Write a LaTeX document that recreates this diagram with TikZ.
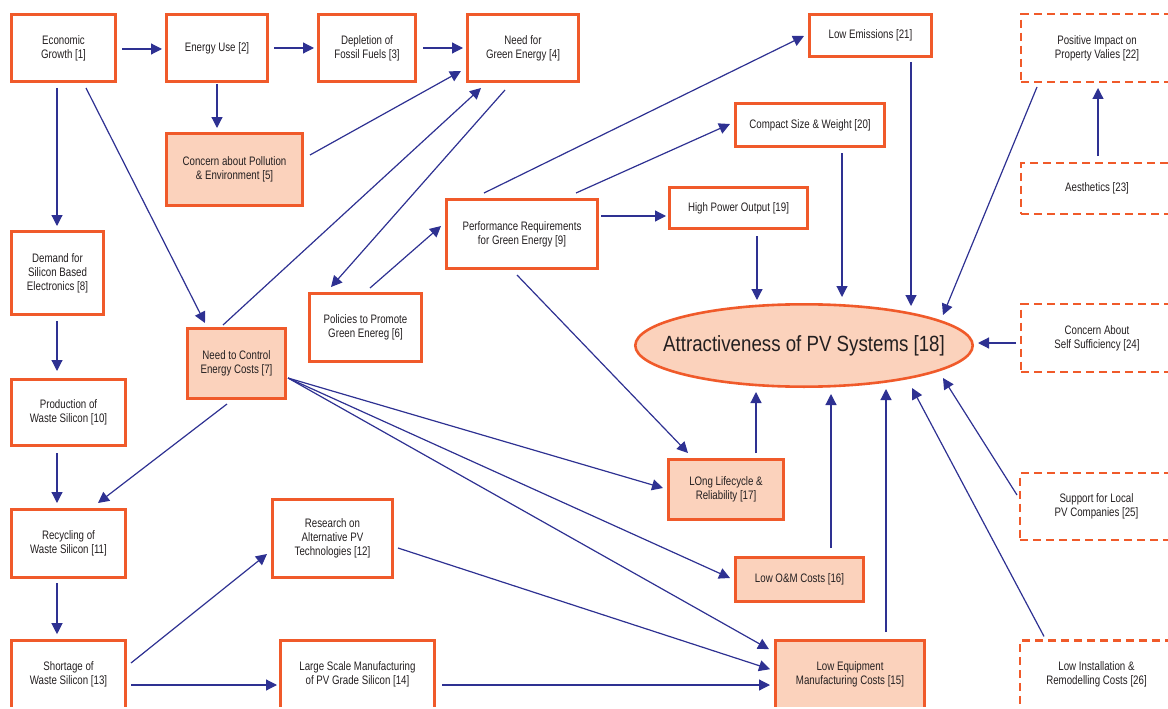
\documentclass[tikz,border=0pt]{standalone}
\usepackage{fontspec}
\setmainfont{Liberation Sans}[FakeStretch=0.79]
\newfontfamily\bigfont{Liberation Sans}[FakeStretch=0.85]
\usetikzlibrary{arrows.meta,shapes.geometric}
\definecolor{boxorange}{RGB}{240,90,42}
\definecolor{peach}{RGB}{251,210,188}
\definecolor{navy}{RGB}{46,49,146}
\definecolor{txt}{RGB}{35,31,32}
\begin{document}
\begin{tikzpicture}[x=1pt,y=-1pt,
  box/.style={draw=boxorange, line width=2.6pt, rectangle, inner sep=2pt, outer sep=1.3pt,
    align=center, text=txt, font=\fontsize{12.3}{14}\selectfont},
  hot/.style={box, fill=peach},
  dbox/.style={box, line width=2.2pt, dash pattern=on 8pt off 5pt, outer sep=1.1pt},
  arr/.style={draw=navy, line width=1.2pt, -{Triangle[length=11pt,width=11pt]}},
]
\useasboundingbox (0,0) rectangle (1168,709);
\clip (-10,-10) rectangle (1180,706);

% boxes
\node[box, minimum width=104.4, minimum height=67.4] (n1) at (63.5,48) {Economic\\Growth [1]};
\node[box, minimum width=101.4, minimum height=67.4] (n2) at (217,48) {Energy Use [2]};
\node[box, minimum width=97.4, minimum height=67.4] (n3) at (367,48) {Depletion of\\Fossil Fuels [3]};
\node[box, minimum width=111.4, minimum height=67.4] (n4) at (523,48) {Need for\\Green Energy [4]};
\node[hot, minimum width=136.4, minimum height=72.4] (n5) at (234.5,169.5) {Concern about Pollution\\\& Environment [5]};
\node[box, minimum width=112.4, minimum height=68.4] (n6) at (365.5,327.5) {Policies to Promote\\Green Enereg [6]};
\node[hot, minimum width=98.4, minimum height=70.4] (n7) at (236.5,363.5) {Need to Control\\Energy Costs [7]};
\node[box, minimum width=92.4, minimum height=83.4] (n8) at (57.5,273) {Demand for\\Silicon Based\\Electronics [8]};
\node[box, minimum width=151.4, minimum height=69.4] (n9) at (522,234) {Performance Requirements\\for Green Energy [9]};
\node[box, minimum width=114.4, minimum height=66.4] (n10) at (68.5,412.5) {Production of\\Waste Silicon [10]};
\node[box, minimum width=114.4, minimum height=68.4] (n11) at (68.5,543.5) {Recycling of\\Waste Silicon [11]};
\node[box, minimum width=120.4, minimum height=78.4] (n12) at (332.5,538.5) {Research on\\Alternative PV\\Technologies [12]};
\node[box, minimum width=114.4, minimum height=68] (n13) at (68.5,674.5) {Shortage of\\Waste Silicon [13]};
\node[box, minimum width=154.4, minimum height=68] (n14) at (357.5,674.5) {Large Scale Manufacturing\\of PV Grade Silicon [14]};
\node[hot, minimum width=149.4, minimum height=68] (n15) at (850,674.5) {Low Equipment\\Manufacturing Costs [15]};
\node[hot, minimum width=128.4, minimum height=44.4] (n16) at (799.5,579.5) {Low O\&M Costs [16]};
\node[hot, minimum width=115.4, minimum height=60.4] (n17) at (726,489.5) {LOng Lifecycle \&\\Reliability [17]};
\node[hot, ellipse, inner sep=0pt, minimum width=337.4, minimum height=82.4,
  font=\bigfont\fontsize{22}{26}\selectfont] (n18) at (804,345.5) {\makebox[0pt]{Attractiveness of PV Systems [18]}};
\node[box, minimum width=138.4, minimum height=41.4] (n19) at (738.5,208) {High Power Output [19]};
\node[box, minimum width=149.4, minimum height=43.4] (n20) at (810,125) {Compact Size \& Weight [20]};
\node[box, minimum width=122.4, minimum height=42.4] (n21) at (870.5,35.5) {Low Emissions [21]};
\node[dbox, minimum width=151.8, minimum height=67.8] (n22) at (1097,48) {Positive Impact on\\Property Valies [22]};
\node[dbox, minimum width=151.8, minimum height=50.8] (n23) at (1097,188.5) {Aesthetics [23]};
\node[dbox, minimum width=151.8, minimum height=67.8] (n24) at (1097,338) {Concern About\\Self Sufficiency [24]};
\node[dbox, minimum width=152.8, minimum height=66.8] (n25) at (1096.5,506.5) {Support for Local\\PV Companies [25]};
\node[dbox, minimum width=152.8, minimum height=68] (n26) at (1096.5,674.5) {Low Installation \&\\Remodelling Costs [26]};

% connectors
\draw[arr] ([shift={(5,1)}]n1.east) -- ([shift={(-3,1)}]n2.west);
\draw[arr] ([shift={(5,0)}]n2.east) -- ([shift={(-3,0)}]n3.west);
\draw[arr] ([shift={(6,0)}]n3.east) -- ([shift={(-3,0)}]n4.west);
\draw[arr] ([shift={(0,1)}]n2.south) -- ([shift={(-17.5,-4)}]n5.north);
\draw[arr] ([shift={(-6.5,5)}]n1.south) -- ([shift={(-0.5,-4)}]n8.north);
\draw[arr] ([shift={(22.5,5)}]n1.south) -- ([shift={(-31.5,-4)}]n7.north);
\draw[arr] ([shift={(6,-14.5)}]n5.east) -- ([shift={(-5,23)}]n4.west);
\draw[arr] ([shift={(-13.5,-2)}]n7.north) -- ([shift={(-42,5)}]n4.south);
\draw[arr] ([shift={(-18,7)}]n4.south) -- ([shift={(-34.5,-5)}]n6.north);
\draw[arr] ([shift={(4.5,-4)}]n6.north) -- ([shift={(-4,-8)}]n9.west);
\draw[arr] ([shift={(-38,-5)}]n9.north) -- ([shift={(-4,0.5)}]n21.west);
\draw[arr] ([shift={(54,-5)}]n9.north) -- ([shift={(-4,-1)}]n20.west);
\draw[arr] ([shift={(2,-18)}]n9.east) -- ([shift={(-2,8)}]n19.west);
\draw[arr] ([shift={(-5,5)}]n9.south) -- ([shift={(-38,-5)}]n17.north);
\draw[arr] ([shift={(18.5,6)}]n19.south) -- ([shift={(-47,-3)}]n18.north);
\draw[arr] ([shift={(32,5)}]n20.south) -- ([shift={(38,-6)}]n18.north);
\draw[arr] ([shift={(40.5,4)}]n21.south) -- ([shift={(107,3)}]n18.north);
\draw[arr] ([shift={(-60,4)}]n22.south) -- ([shift={(139,-30.5)}]n18.center);
\draw[arr] ([shift={(1,-6)}]n23.north) -- ([shift={(1,5)}]n22.south);
\draw[arr] ([shift={(-4,5)}]n24.west) -- ([shift={(4,-2.5)}]n18.east);
\draw[arr] ([shift={(-2,-11.5)}]n25.west) -- ([shift={(139,32.5)}]n18.center);
\draw[arr] ([shift={(-52.5,-3)}]n26.north) -- ([shift={(108,42.5)}]n18.center);
\draw[arr] ([shift={(30,-5)}]n17.north) -- ([shift={(-48,4)}]n18.south);
\draw[arr] ([shift={(31.5,-8)}]n16.north) -- ([shift={(27,6)}]n18.south);
\draw[arr] ([shift={(36,-7)}]n15.north) -- ([shift={(82,1)}]n18.south);
\draw[arr] ([shift={(1,14.5)}]n7.east) -- ([shift={(-4,-1.5)}]n17.west);
\draw[arr] ([shift={(1,14.5)}]n7.east) -- ([shift={(-4,-1.5)}]n16.west);
\draw[arr] ([shift={(1,14.5)}]n7.east) -- ([shift={(-5,10)}]n15.north west);
\draw[arr] ([shift={(4,9.5)}]n12.east) -- ([shift={(-4,30)}]n15.north west);
\draw[arr] ([shift={(6,10.5)}]n14.east) -- ([shift={(-4,10.5)}]n15.west);
\draw[arr] ([shift={(4,10.5)}]n13.east) -- ([shift={(-2,10.5)}]n14.west);
\draw[arr] ([shift={(4,-11.5)}]n13.east) -- ([shift={(-4,15.5)}]n12.west);
\draw[arr] ([shift={(-11.5,4)}]n11.south) -- ([shift={(-11.5,-5)}]n13.north);
\draw[arr] ([shift={(-11.5,6)}]n10.south) -- ([shift={(-11.5,-5)}]n11.north);
\draw[arr] ([shift={(-0.5,5)}]n8.south) -- ([shift={(-11.5,-7)}]n10.north);
\draw[arr] ([shift={(-9.5,4)}]n7.south) -- ([shift={(29.5,-5)}]n11.north);
\end{tikzpicture}
\end{document}
